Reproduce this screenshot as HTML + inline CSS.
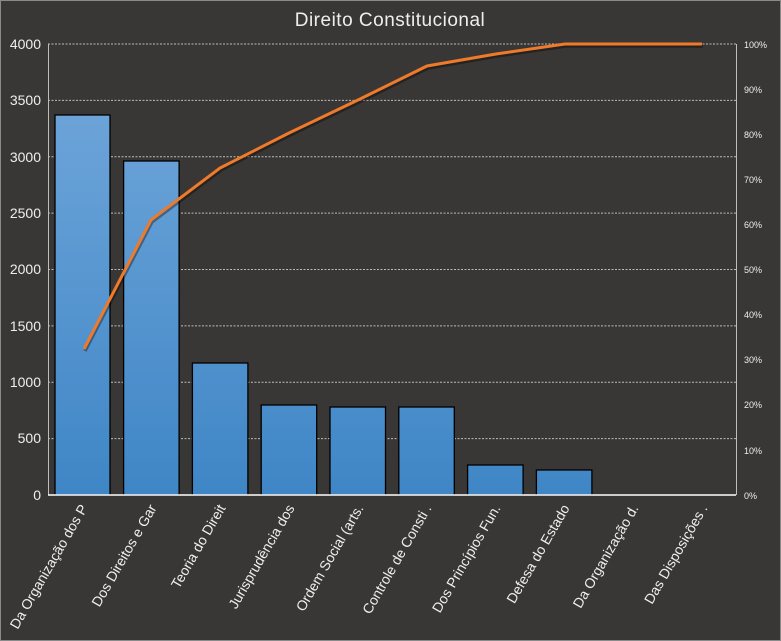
<!DOCTYPE html>
<html><head><style>
html,body{margin:0;padding:0;background:#383735;}
svg{display:block;font-family:"Liberation Sans",sans-serif;}
</style></head><body>
<svg width="781" height="641" viewBox="0 0 781 641">
<defs>
<linearGradient id="g" gradientUnits="userSpaceOnUse" x1="0" y1="44" x2="0" y2="495">
<stop offset="0" stop-color="#74a9dc"/><stop offset="1" stop-color="#3f86c6"/>
</linearGradient>
</defs>
<rect x="0" y="0" width="781" height="641" fill="#383735"/>
<rect x="0.5" y="0.5" width="780" height="640" fill="none" stroke="#8a8a8a"/>
<text x="390" y="26" text-anchor="middle" font-size="19" fill="#eeeeee" letter-spacing="0.5">Direito Constitucional</text>
<g stroke="#bdbdbd" stroke-dasharray="2,1.5" stroke-width="1">
<line x1="48" y1="44" x2="736" y2="44"/>
<line x1="48" y1="100.4" x2="736" y2="100.4"/>
<line x1="48" y1="156.8" x2="736" y2="156.8"/>
<line x1="48" y1="213.1" x2="736" y2="213.1"/>
<line x1="48" y1="269.5" x2="736" y2="269.5"/>
<line x1="48" y1="325.9" x2="736" y2="325.9"/>
<line x1="48" y1="382.3" x2="736" y2="382.3"/>
<line x1="48" y1="438.6" x2="736" y2="438.6"/>
</g>
<line x1="48.5" y1="44" x2="48.5" y2="495" stroke="#bdbdbd"/>
<line x1="736.5" y1="44" x2="736.5" y2="495" stroke="#bdbdbd"/>
<g fill="url(#g)" stroke="#000" stroke-width="1.3">
<rect x="55" y="115" width="55" height="380"/>
<rect x="123.6" y="161" width="55.5" height="334"/>
<rect x="192.4" y="363" width="55.5" height="132"/>
<rect x="261.2" y="405" width="55.5" height="90"/>
<rect x="330" y="407" width="55.5" height="88"/>
<rect x="398.8" y="407" width="55.5" height="88"/>
<rect x="467.6" y="465" width="55.5" height="30"/>
<rect x="536.4" y="470" width="55.5" height="25"/>
</g>
<line x1="48" y1="495" x2="736" y2="495" stroke="#ffffff" stroke-width="1.5"/>
<polyline points="84,349 151,220 220,168 289,133 358,100 427,66 496,54 565,44 633,44 702,44" fill="none" stroke="#000" stroke-opacity="0.35" stroke-width="3.5" transform="translate(1,2)"/>
<polyline points="84,349 151,220 220,168 289,133 358,100 427,66 496,54 565,44 633,44 702,44" fill="none" stroke="#ee7a2a" stroke-width="3"/>
<g font-size="14" fill="#eeeeee" text-anchor="end">
<text x="41" y="49">4000</text>
<text x="41" y="105">3500</text>
<text x="41" y="162">3000</text>
<text x="41" y="218">2500</text>
<text x="41" y="274">2000</text>
<text x="41" y="331">1500</text>
<text x="41" y="387">1000</text>
<text x="41" y="443">500</text>
<text x="41" y="500">0</text>
</g>
<g font-size="9" fill="#eeeeee">
<text x="744" y="48">100%</text>
<text x="744" y="93">90%</text>
<text x="744" y="138">80%</text>
<text x="744" y="183">70%</text>
<text x="744" y="228">60%</text>
<text x="744" y="273">50%</text>
<text x="744" y="318">40%</text>
<text x="744" y="363">30%</text>
<text x="744" y="408">20%</text>
<text x="744" y="454">10%</text>
<text x="744" y="499">0%</text>
</g>
<g font-size="14" fill="#eeeeee" text-anchor="end">
<text transform="translate(88,508) rotate(-60)">Da Organização dos P</text>
<text transform="translate(157,508) rotate(-60)">Dos Direitos e Gar</text>
<text transform="translate(226,508) rotate(-60)">Teoria do Direit</text>
<text transform="translate(295,508) rotate(-60)">Jurisprudência dos</text>
<text transform="translate(364,508) rotate(-60)">Ordem Social (arts.</text>
<text transform="translate(432,508) rotate(-60)">Controle de Consti .</text>
<text transform="translate(501,508) rotate(-60)">Dos Princípios Fun.</text>
<text transform="translate(570,508) rotate(-60)">Defesa do Estado</text>
<text transform="translate(639,508) rotate(-60)">Da Organização d.</text>
<text transform="translate(708,508) rotate(-60)">Das Disposições .</text>
</g>
</svg>
</body></html>
